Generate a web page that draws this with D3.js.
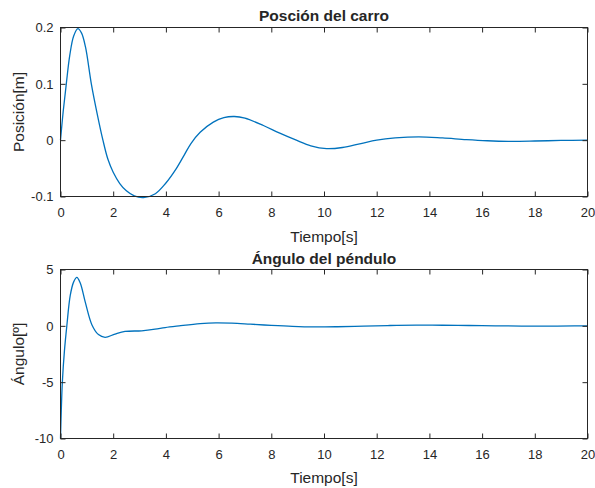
<!DOCTYPE html>
<html>
<head>
<meta charset="utf-8">
<script src="https://cdn.jsdelivr.net/npm/d3@7"></script>
<style>
  html, body { margin: 0; padding: 0; background: #fff; }
  svg { display: block; }
  text { font-family: "Liberation Sans", Arial, Helvetica, sans-serif; fill: #262626; }
</style>
</head>
<body>
<svg id="chart" width="595" height="488"></svg>
<script>
// ---- Data ----
const xTicks = [0, 2, 4, 6, 8, 10, 12, 14, 16, 18, 20];

// Posición del carro [m]
const posTime  = [0, 0.1, 0.22, 0.35, 0.5, 0.66, 0.8, 0.95, 1.17, 1.4, 1.61, 1.8, 2.0, 2.25, 2.5, 2.8, 3.15, 3.6, 4.0, 4.4, 4.7, 4.95, 5.3, 5.8, 6.2, 6.6, 7.0, 7.7, 8.3, 8.95, 9.5, 10.1, 10.7, 11.4, 12.0, 12.7, 13.6, 14.5, 15.4, 16.2, 17.0, 18.0, 19.0, 20];
const posValue = [0, 0.05, 0.1, 0.15, 0.185, 0.198, 0.19, 0.165, 0.1, 0.045, 0, -0.034, -0.057, -0.077, -0.09, -0.099, -0.102, -0.095, -0.076, -0.05, -0.026, -0.006, 0.014, 0.032, 0.04, 0.042, 0.039, 0.026, 0.013, 0, -0.01, -0.015, -0.013, -0.006, 0, 0.004, 0.006, 0.004, 0.001, -0.001, -0.002, -0.0015, -0.0005, 0];
const posYTicks = [-0.1, 0, 0.1, 0.2];
const posYTickLabels = ["-0.1", "0", "0.1", "0.2"];

// Ángulo del péndulo [º]
const angTime  = [0, 0.03, 0.07, 0.15, 0.24, 0.37, 0.5, 0.62, 0.75, 0.94, 1.19, 1.44, 1.69, 2.07, 2.45, 3.08, 3.59, 3.97, 4.5, 5.3, 5.9, 6.5, 7.2, 8.0, 8.8, 9.6, 10.5, 11.5, 12.5, 13.5, 14.5, 15.5, 16.5, 17.5, 18.5, 19.5, 20];
const angValue = [-10, -7.5, -5, -2.2, 0, 2.7, 3.9, 4.3, 3.8, 2.1, 0.1, -0.78, -1.02, -0.73, -0.5, -0.44, -0.3, -0.15, 0, 0.2, 0.27, 0.24, 0.15, 0.04, -0.05, -0.1, -0.08, -0.02, 0.03, 0.06, 0.05, 0.03, 0, -0.02, -0.02, -0.01, 0];
const angYTicks = [-10, -5, 0, 5];
const angYTickLabels = ["-10", "-5", "0", "5"];

// ---- Drawing ----
const svg = d3.select("#chart");
const axisColor = "#262626";
const lineColor = "#0072BD";

function panel(cfg) {
  const { left, right, top, bottom, xDomain, yDomain, times, values, yTicks, yTickLabels, title, xLabel, yLabel, titleGap, xLabelGap } = cfg;
  const x = d3.scaleLinear().domain(xDomain).range([left, right]);
  const y = d3.scaleLinear().domain(yDomain).range([bottom, top]);
  const g = svg.append("g");

  // curve
  const data = times.map((t, i) => [t, values[i]]);
  g.append("path")
    .datum(data)
    .attr("fill", "none")
    .attr("stroke", lineColor)
    .attr("stroke-width", 1.3)
    .attr("d", d3.line().x(d => x(d[0])).y(d => y(d[1])).curve(d3.curveCatmullRom.alpha(0.5)));

  const tl = 5;
  const xb = d3.axisBottom(x).tickValues(xTicks).tickSize(-tl).tickPadding(11).tickFormat(d3.format("d"));
  const gx = g.append("g").attr("transform", `translate(0,${bottom})`).call(xb);
  const xt = d3.axisTop(x).tickValues(xTicks).tickSize(-tl).tickFormat("");
  const gxt = g.append("g").attr("transform", `translate(0,${top})`).call(xt);
  const yl = d3.axisLeft(y).tickValues(yTicks).tickSize(-tl).tickPadding(7).tickFormat((d, i) => yTickLabels[i]);
  const gy = g.append("g").attr("transform", `translate(${left},0)`).call(yl);
  const yr = d3.axisRight(y).tickValues(yTicks).tickSize(-tl).tickFormat("");
  const gyr = g.append("g").attr("transform", `translate(${right},0)`).call(yr);

  [gx, gxt, gy, gyr].forEach(a => {
    a.select(".domain").remove();
    a.selectAll(".tick line").attr("stroke", axisColor).attr("stroke-width", 1);
    a.selectAll(".tick text").attr("fill", axisColor).style("font-size", "13px")
      .style("font-family", '"Liberation Sans", Arial, sans-serif');
  });

  // box
  g.append("rect")
    .attr("x", left).attr("y", top)
    .attr("width", right - left).attr("height", bottom - top)
    .attr("fill", "none").attr("stroke", axisColor).attr("stroke-width", 1);

  // title
  g.append("text")
    .attr("x", (left + right) / 2).attr("y", top - titleGap)
    .attr("text-anchor", "middle")
    .style("font-size", "15.5px").style("font-weight", "bold")
    .text(title);
  // x label
  g.append("text")
    .attr("x", (left + right) / 2).attr("y", bottom + xLabelGap)
    .attr("text-anchor", "middle")
    .style("font-size", "15.5px")
    .text(xLabel);
  // y label
  g.append("text")
    .attr("transform", `translate(24,${(top + bottom) / 2}) rotate(-90)`)
    .attr("text-anchor", "middle")
    .style("font-size", "15.5px")
    .text(yLabel);
}

panel({
  left: 60.5, right: 587.5, top: 27.5, bottom: 196.5,
  xDomain: [0, 20], yDomain: [-0.1, 0.2],
  times: posTime, values: posValue,
  yTicks: posYTicks, yTickLabels: posYTickLabels,
  title: "Posción del carro", xLabel: "Tiempo[s]", yLabel: "Posición[m]",
  titleGap: 7, xLabelGap: 45
});

panel({
  left: 60.5, right: 587.5, top: 269.5, bottom: 438.5,
  xDomain: [0, 20], yDomain: [-10, 5],
  times: angTime, values: angValue,
  yTicks: angYTicks, yTickLabels: angYTickLabels,
  title: "Ángulo del péndulo", xLabel: "Tiempo[s]", yLabel: "Ángulo[º]",
  titleGap: 6, xLabelGap: 44
});
</script>
</body>
</html>
